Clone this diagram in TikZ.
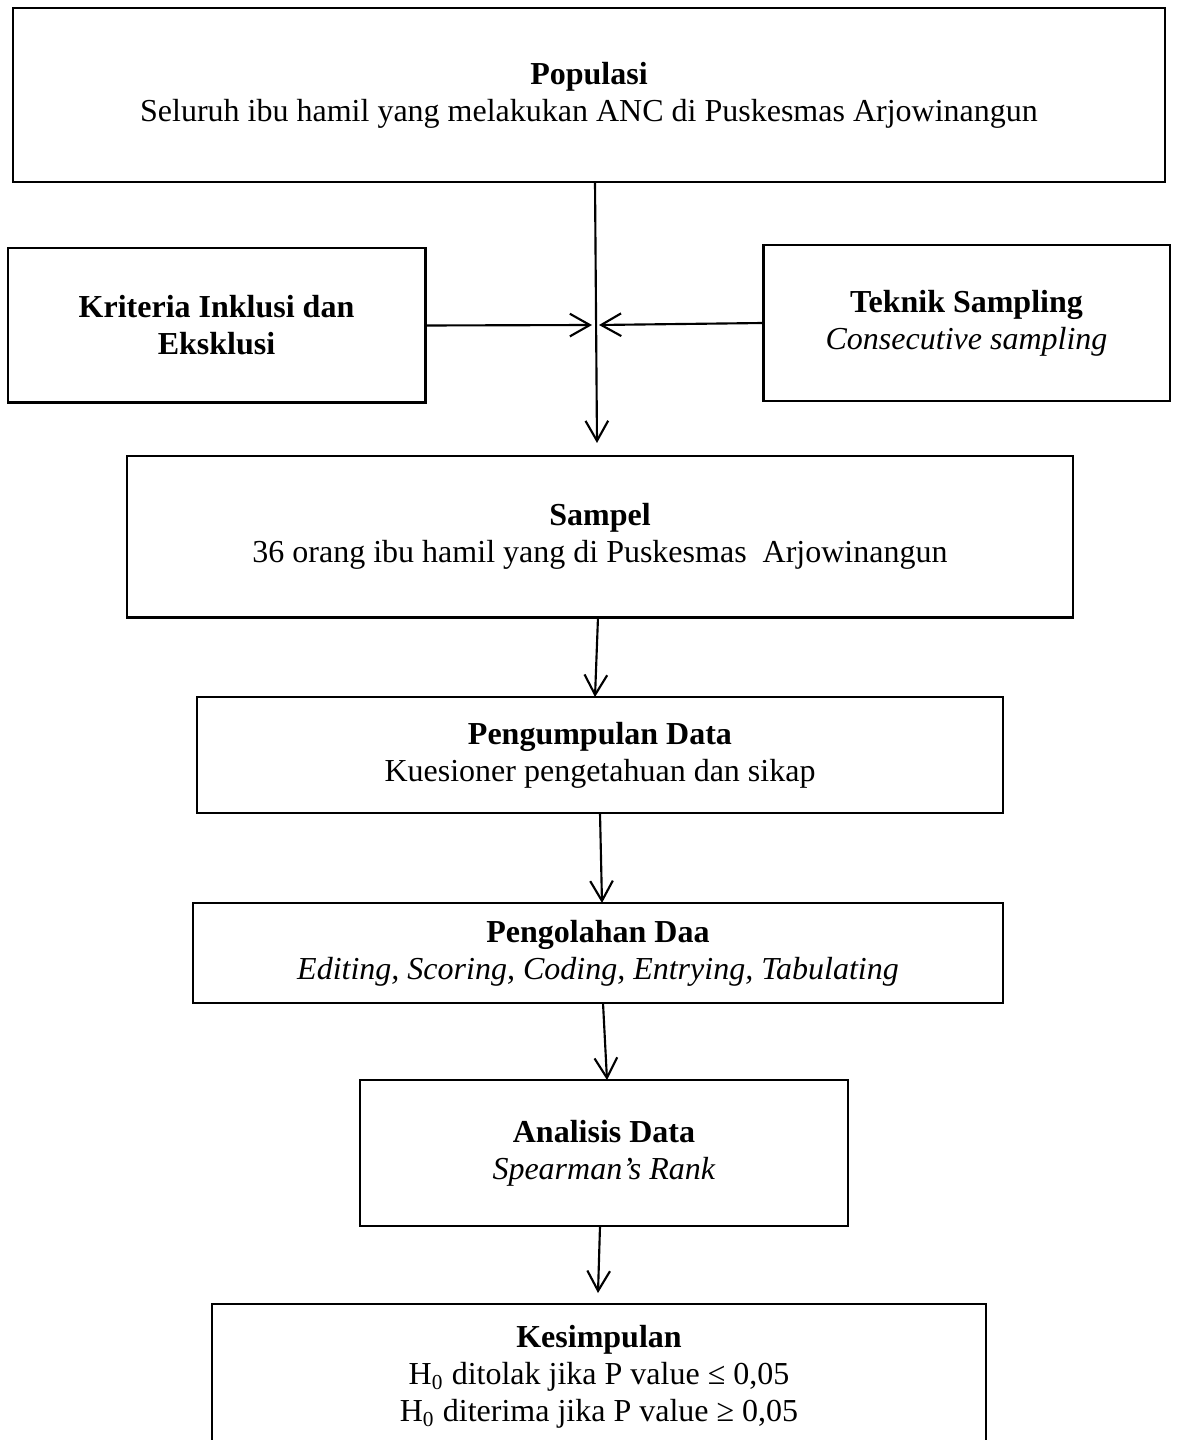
\documentclass[tikz,border=0pt]{standalone}
\usepackage{fontspec}
\setmainfont{Liberation Serif}
\usetikzlibrary{arrows.meta,calc}
\begin{document}
\begin{tikzpicture}[x=0.375pt,y=-0.375pt,>={Straight Barb[length=7.5pt,width=8.5pt]},
	box/.style={draw,line width=1.1pt,align=center,inner sep=0pt,outer sep=0pt,font=\fontsize{12}{13.9}\selectfont},
	arr/.style={->,line width=0.8pt}]
	\useasboundingbox (0,0) rectangle (1178,1440);
	\node[box,minimum width=432pt,minimum height=65.25pt] (popu) at (589,95) {\textbf{Populasi}\\Seluruh ibu hamil yang melakukan ANC di Puskesmas Arjowinangun};
	\node[box,minimum width=156.4pt,minimum height=58.1pt] (krit) at (216.5,325.5) {\textbf{Kriteria Inklusi dan}\\\textbf{Eksklusi}};
	\node[box,minimum width=152.6pt,minimum height=58.5pt] (tekn) at (966.5,323) {\textbf{Teknik Sampling}\\\textit{Consecutive sampling}};
	\node[box,minimum width=354.75pt,minimum height=60.4pt] (samp) at (600,536.5) {\textbf{Sampel}\\36 orang ibu hamil yang di Puskesmas~ Arjowinangun};
	\node[box,minimum width=302.25pt,minimum height=43.5pt] (kump) at (600,755) {\textbf{Pengumpulan Data}\\Kuesioner pengetahuan dan sikap};
	\node[box,minimum width=303.75pt,minimum height=37.5pt] (olah) at (598,953) {\textbf{Pengolahan Daa}\\\textit{Editing, Scoring, Coding, Entrying, Tabulating}};
	\node[box,minimum width=183pt,minimum height=54.75pt] (anal) at (604,1153) {\textbf{Analisis Data}\\\textit{Spearman’s Rank}};
	\node[box,minimum width=290.25pt,minimum height=54.75pt] (simp) at (599,1377) {\textbf{Kesimpulan}\\H\textsubscript{0} ditolak jika P value ≤ 0,05\\H\textsubscript{0} diterima jika P value ≥ 0,05};
	\coordinate (jn) at (596,325);
	\draw[arr] ($(popu.south)+(6,0)$)--($(samp.north)+(-3,-13)$);
	\draw[arr] (krit.east)--($(jn)+(-4,0)$);
	\draw[arr] (tekn.west)--($(jn)+(3,0)$);
	\draw[arr] ($(samp.south)+(-2,0)$)--($(kump.north)+(-5,0)$);
	\draw[arr] (kump.south)--($(olah.north)+(4,0)$);
	\draw[arr] ($(olah.south)+(5,0)$)--($(anal.north)+(3,0)$);
	\draw[arr] ($(anal.south)+(-4,0)$)--($(simp.north)+(-1,-11)$);
\end{tikzpicture}
\end{document}
